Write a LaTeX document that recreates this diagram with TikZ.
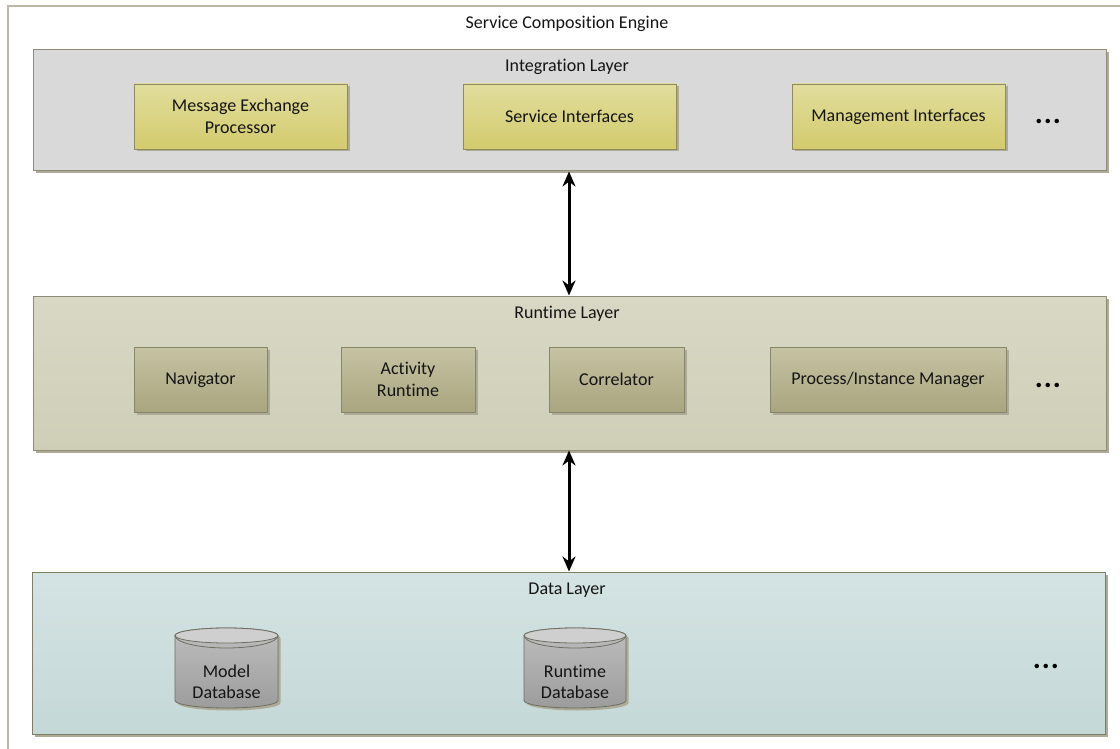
\documentclass[tikz,border=0pt]{standalone}
\usepackage{fontspec}
\setmainfont{Carlito}[Ligatures={NoCommon,NoRare,NoContextual}]
\usetikzlibrary{arrows.meta}

\definecolor{framec}{HTML}{BCB8A6}
\definecolor{intfill}{HTML}{D9D9D9}
\definecolor{intdraw}{HTML}{8E8C78}
\definecolor{rtlayTop}{HTML}{D9D8C5}
\definecolor{rtlayBot}{HTML}{CFCEB7}
\definecolor{rtlayDraw}{HTML}{8E8C74}
\definecolor{dataTop}{HTML}{D4E3E3}
\definecolor{dataBot}{HTML}{C4D8D7}
\definecolor{dataDraw}{HTML}{7E7E62}
\definecolor{yelTop}{HTML}{E1DD9D}
\definecolor{yelBot}{HTML}{D3CB6C}
\definecolor{yelDraw}{HTML}{8F8B5E}
\definecolor{olvTop}{HTML}{C6C3A4}
\definecolor{olvBot}{HTML}{A9A57F}
\definecolor{olvDraw}{HTML}{88866A}
\definecolor{shadowc}{HTML}{ADAB98}
\definecolor{dbTop}{HTML}{BEBEBE}
\definecolor{dbBot}{HTML}{9C9C9C}
\definecolor{dbCap}{HTML}{CFCFCF}
\definecolor{dbDraw}{HTML}{6E6E62}
\definecolor{txt}{HTML}{141414}

\tikzset{
  every node/.style={text=txt, font=\fontsize{18}{21.5}\selectfont},
  shadowed/.style={preaction={fill=shadowc, transform canvas={shift={(2.5pt,-2.5pt)}}}},
  layerbox/.style={shadowed, line width=1pt, inner sep=0pt, minimum width=1073pt},
  compbox/.style={shadowed, line width=0.8pt, inner sep=2pt, minimum height=65pt, align=center},
  yelbox/.style={compbox, draw=yelDraw, top color=yelTop, bottom color=yelBot},
  olvbox/.style={compbox, draw=olvDraw, top color=olvTop, bottom color=olvBot},
  caption/.style={inner sep=0pt},
  moredots/.style={inner sep=0pt, text=black, font=\fontsize{30}{30}\selectfont\bfseries},
  link/.style={line width=3pt, {Stealth[length=15pt,width=13pt]}-{Stealth[length=15pt,width=13pt]}},
  dbbody/.style={draw=dbDraw, line width=0.8pt, top color=dbTop, bottom color=dbBot},
  dbcap/.style={draw=dbDraw, line width=0.8pt, fill=dbCap},
}

% cylinder: #1 = centre x, #2 = half width
\newcommand{\dbcylinder}[2]{%
  \path[shadowed, dbbody] (#1-#2,-635.5) -- (#1-#2,-700.5)
    arc[start angle=180, end angle=360, x radius=#2, y radius=7.5]
    -- (#1+#2,-635.5)
    arc[start angle=0, end angle=180, x radius=#2, y radius=7.5] -- cycle;
  \path[dbcap] (#1,-635.5) ellipse [x radius=#2, y radius=7.5];
  \draw[dbDraw, line width=0.8pt] (#1-#2,-635.5)
    arc[start angle=180, end angle=360, x radius=#2, y radius=12.5];
}

\begin{document}
\begin{tikzpicture}[x=1pt, y=1pt]
  \useasboundingbox (0,0) rectangle (1120,-749);

  % engine frame (open to the right and bottom)
  \draw[framec, line width=1.6pt] (8,-760) -- (8,-6) -- (1130,-6);
  \node[caption] (engine) at (567,-24) {Service Composition Engine};

  % layers
  \node[layerbox, draw=intdraw, fill=intfill, minimum height=121pt] (integ) at (569.5,-110.5) {};
  \node[layerbox, draw=rtlayDraw, top color=rtlayTop, bottom color=rtlayBot, minimum height=154pt] (runtime) at (569.5,-373) {};
  \node[layerbox, draw=dataDraw, top color=dataTop, bottom color=dataBot, minimum height=162pt] (data) at (568.5,-653) {};

  \node[caption] (integlbl) at (567,-67) {Integration Layer};
  \node[caption] (runtimelbl) at (567,-314) {Runtime Layer};
  \node[caption] (datalbl) at (567,-590) {Data Layer};

  % integration layer components
  \node[yelbox, minimum width=213pt] (mep) at (240.5,-116.5) {Message Exchange\\Processor};
  \node[yelbox, minimum width=213pt] (si) at (569.5,-116.5) {Service Interfaces};
  \node[yelbox, minimum width=213pt] (mi) at (898.5,-116.5) {Management Interfaces};
  \node[moredots] (integdots) at (1048,-121) {.\hspace{1pt}.\hspace{1pt}.};

  % runtime layer components
  \node[olvbox, minimum width=133pt] (nav) at (200.5,-379.5) {Navigator};
  \node[olvbox, minimum width=134pt] (act) at (408,-379.5) {Activity\\Runtime};
  \node[olvbox, minimum width=135pt] (corr) at (616.5,-379.5) {Correlator};
  \node[olvbox, minimum width=236pt] (pim) at (888,-379.5) {Process/Instance Manager};
  \node[moredots] (rtdots) at (1048,-385) {.\hspace{1pt}.\hspace{1pt}.};

  % data layer stores
  \dbcylinder{226.5}{51.5}
  \dbcylinder{575}{51}
  \node[align=center, inner sep=0pt] (modeldb) at (226.5,-682) {Model\\Database};
  \node[align=center, inner sep=0pt] (runtimedb) at (575,-682) {Runtime\\Database};
  \node[moredots] (datadots) at (1046,-666) {.\hspace{1pt}.\hspace{1pt}.};

  % layer interactions
  \draw[link] (integ.south -| 569,0) -- (runtime.north -| 569,0);
  \draw[link] (runtime.south -| 569,0) -- (data.north -| 569,0);
\end{tikzpicture}
\end{document}
